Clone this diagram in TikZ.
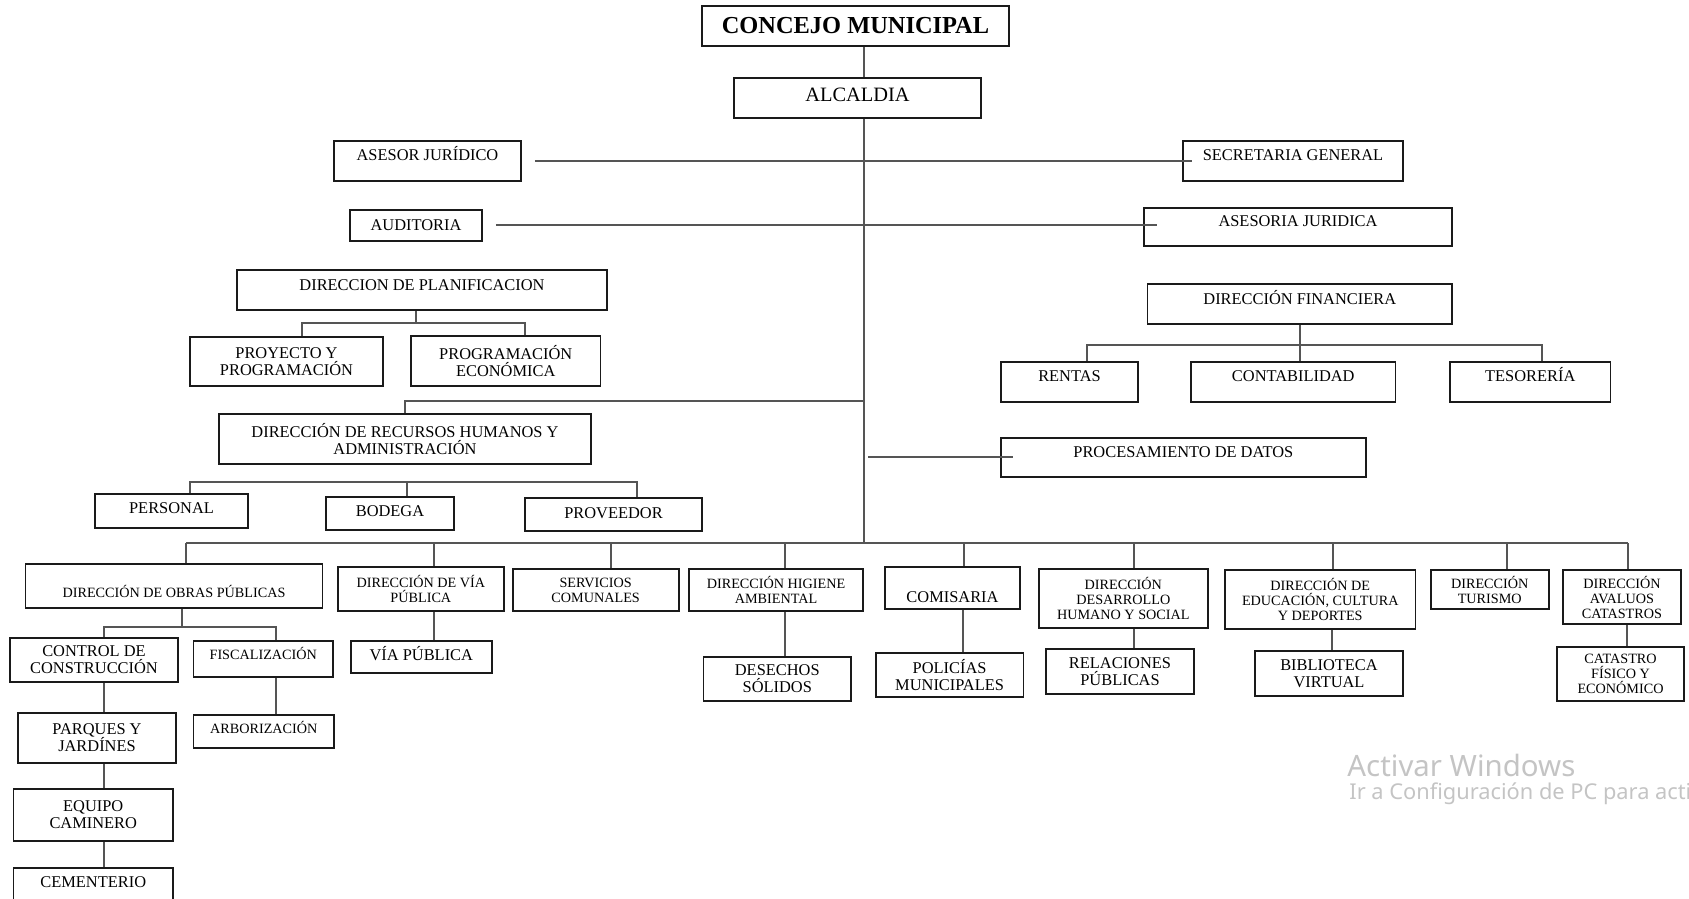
\documentclass[tikz,border=0pt]{standalone}
\usepackage{fontspec}
\setmainfont{Liberation Serif}
\newfontfamily\winfont{Noto Sans}
\usetikzlibrary{positioning, calc}
\definecolor{orgInk}{HTML}{1A1A1A}
\definecolor{orgLine}{HTML}{555555}
\definecolor{orgMark}{HTML}{C4C4C4}

\begin{document}
\begin{tikzpicture}[
    x=0.5pt, y=-0.5pt,
    unit/.style={
        draw=orgInk, line width=0.9pt, align=center, inner sep=1pt,
        font=\fontsize{8.2}{8.5}\selectfont
    },
    small/.style={font=\fontsize{7.1}{7.5}\selectfont},
    lift/.style={text height=5.4pt, text depth=#1},
    sink/.style={text height=#1, text depth=0pt},
    link/.style={draw=orgLine, line width=1pt},
    watermark/.style={text=orgMark, inner sep=0pt, anchor=west},
]
\clip (0,0) rectangle (1689,898);

% Concejo and Alcaldia
\node[unit, font=\bfseries\fontsize{12.2}{13}\selectfont, minimum width=153.5pt, minimum height=20pt] (concejo) at (855.5,26) {CONCEJO MUNICIPAL};
\node[unit, font=\fontsize{10.2}{11}\selectfont, lift=1.6pt, minimum width=123.5pt, minimum height=20pt] (alcaldia) at (857.5,98) {ALCALDIA};

% Staff units
\node[unit, lift=6pt, minimum width=93.5pt, minimum height=20pt] (asesorjur) at (427.5,161) {ASESOR JURÍDICO};
\node[unit, lift=6pt, minimum width=110pt, minimum height=20pt] (secretaria) at (1293,161) {SECRETARIA GENERAL};
\node[unit, minimum width=66pt, minimum height=15.5pt] (auditoria) at (416,225.5) {AUDITORIA};
\node[unit, lift=6pt, minimum width=154pt, minimum height=19pt] (asesoria) at (1298,227) {ASESORIA JURIDICA};

% Planificacion
\node[unit, lift=5pt, minimum width=185pt, minimum height=20pt] (planif) at (422,290) {DIRECCION DE PLANIFICACION};
\node[unit, minimum width=96.5pt, minimum height=24.5pt] (proyecto) at (286.5,361.5) {PROYECTO Y\\PROGRAMACIÓN};
\node[unit, minimum width=94.75pt, minimum height=25pt] (progecon) at (505.75,361) {PROGRAMACIÓN\\ECONÓMICA};

% Financiera
\node[unit, lift=5pt, minimum width=152.25pt, minimum height=20pt] (financiera) at (1299.75,304) {DIRECCIÓN FINANCIERA};
\node[unit, lift=6pt, minimum width=68.5pt, minimum height=20pt] (rentas) at (1069.5,382) {RENTAS};
\node[unit, lift=6pt, minimum width=102.25pt, minimum height=20pt] (contabilidad) at (1293.25,382) {CONTABILIDAD};
\node[unit, lift=6pt, minimum width=80.25pt, minimum height=20pt] (tesoreria) at (1530.25,382) {TESORERÍA};

% Recursos humanos
\node[unit, minimum width=186pt, minimum height=25pt] (rrhh) at (405,439) {DIRECCIÓN DE RECURSOS HUMANOS Y\\ADMINISTRACIÓN};
\node[unit, lift=3pt, minimum width=76.5pt, minimum height=17pt] (personal) at (171.5,511) {PERSONAL};
\node[unit, lift=2.5pt, minimum width=64pt, minimum height=16.5pt] (bodega) at (390,513.5) {BODEGA};
\node[unit, lift=1.5pt, minimum width=88.5pt, minimum height=16.5pt] (proveedor) at (613.5,514.5) {PROVEEDOR};
\node[unit, lift=5pt, minimum width=182.35pt, minimum height=19.65pt] (procesamiento) at (1183.35,457.35) {PROCESAMIENTO DE DATOS};

% Direcciones (bottom row)
\node[unit, small, sink=11.7pt, minimum width=148.5pt, minimum height=22pt] (obras) at (174,586) {DIRECCIÓN DE OBRAS PÚBLICAS};
\node[unit, small, minimum width=83.15pt, minimum height=22pt] (viadir) at (420.85,589) {DIRECCIÓN DE VÍA\\PÚBLICA};
\node[unit, small, minimum width=82.95pt, minimum height=21pt] (servicios) at (595.65,590) {SERVICIOS\\COMUNALES};
\node[unit, small, minimum width=87pt, minimum height=21pt] (higiene) at (776,590) {DIRECCIÓN HIGIENE\\AMBIENTAL};
\node[unit, sink=14.4pt, minimum width=67.5pt, minimum height=21pt] (comisaria) at (952.5,588) {COMISARIA};
\node[unit, small, minimum width=84.3pt, minimum height=29.5pt] (desarrollo) at (1123.3,598.5) {DIRECCIÓN\\DESARROLLO\\HUMANO Y SOCIAL};
\node[unit, small, minimum width=95.25pt, minimum height=29.5pt] (educacion) at (1320.25,599.5) {DIRECCIÓN DE\\EDUCACIÓN, CULTURA\\Y DEPORTES};
\node[unit, small, minimum width=59pt, minimum height=19.5pt] (turismo) at (1489.7,589.5) {DIRECCIÓN\\TURISMO};
\node[unit, small, minimum width=59.1pt, minimum height=27pt] (avaluos) at (1621.9,597) {DIRECCIÓN\\AVALUOS\\CATASTROS};

% Dependencias
\node[unit, minimum width=84pt, minimum height=22pt] (control) at (94,660) {CONTROL DE\\CONSTRUCCIÓN};
\node[unit, small, lift=5pt, minimum width=69.75pt, minimum height=18pt] (fiscal) at (263.25,659) {FISCALIZACIÓN};
\node[unit, minimum width=79pt, minimum height=25pt] (parques) at (97,738) {PARQUES Y\\JARDÍNES};
\node[unit, small, lift=3.5pt, minimum width=70.25pt, minimum height=16.5pt] (arbor) at (263.75,731.5) {ARBORIZACIÓN};
\node[unit, minimum width=79.75pt, minimum height=26pt] (equipo) at (93.25,815) {EQUIPO\\CAMINERO};
\node[unit, lift=2pt, minimum width=79.75pt, minimum height=16pt] (cementerio) at (93.25,884) {CEMENTERIO};
\node[unit, lift=2pt, minimum width=70.3pt, minimum height=16pt] (viapub) at (421.3,657) {VÍA PÚBLICA};
\node[unit, minimum width=73.75pt, minimum height=22pt] (desechos) at (777.25,679) {DESECHOS\\SÓLIDOS};
\node[unit, minimum width=73.9pt, minimum height=22pt] (policias) at (949.6,675) {POLICÍAS\\MUNICIPALES};
\node[unit, minimum width=74pt, minimum height=22.5pt] (relaciones) at (1120,671.5) {RELACIONES\\PÚBLICAS};
\node[unit, minimum width=74pt, minimum height=22.5pt] (biblioteca) at (1329,673.5) {BIBLIOTECA\\VIRTUAL};
\node[unit, small, minimum width=63.5pt, minimum height=27pt] (catastro) at (1620.5,674) {CATASTRO\\FÍSICO Y\\ECONÓMICO};

% Trunk
\coordinate (trunk) at (864,543);
\draw[link] (concejo.south -| trunk) -- (alcaldia.north -| trunk);
\draw[link] (alcaldia.south -| trunk) -- (trunk);
\draw[link, shorten <=6.5pt, shorten >=-5pt] (asesorjur) -- (secretaria);
\draw[link, shorten <=6.5pt, shorten >=-7pt] (auditoria.east) -- (auditoria.east -| asesoria.west);
\draw[link] (rrhh.north) |- ($(trunk |- rrhh.north)+(0,-12)$);
\draw[link, shorten <=2pt, shorten >=-6.5pt] (trunk |- procesamiento.west) -- (procesamiento.west);

% Planificacion branches
\coordinate (planbus) at ($(planif.south)+(-6,12)$);
\draw[link] (planif.south -| planbus) -- (planbus);
\draw[link] ($(proyecto.north)+(15.5,0)$) |- ($(progecon.north |- planbus)+(19.25,0)$) -- ($(progecon.north)+(19.25,0)$);

% Financiera branches
\coordinate (finbus) at ($(financiera.south)+(0,20)$);
\draw[link] (financiera.south) -- (financiera.south |- contabilidad.north);
\draw[link] ($(rentas.north)+(17.5,0)$) |- ($(tesoreria.north |- finbus)+(11.5,0)$) -- ($(tesoreria.north)+(11.5,0)$);

% Recursos humanos branches
\coordinate (rrhhbus) at ($(rrhh.south)+(0,17)$);
\draw[link] ($(personal.north)+(18.5,0)$) |- ($(proveedor.north |- rrhhbus)+(23.5,0)$) -- ($(proveedor.north)+(23.5,0)$);
\draw[link] ($(bodega.north)+(16.5,0)$) -- ($(bodega.north |- rrhhbus)+(16.5,0)$);

% Bottom bus
\draw[link] ($(obras.north |- trunk)+(12,0)$) -- ($(avaluos.north |- trunk)+(6,0)$);
\foreach \unitname/\dx in {obras/12, viadir/13, servicios/15, higiene/9, comisaria/11,
    desarrollo/10.7, educacion/12.75, turismo/17, avaluos/6}
    \draw[link] ($(\unitname.north)+(\dx,0)$) -- ($(\unitname.north |- trunk)+(\dx,0)$);

% Obras branches
\coordinate (obrasbus) at ($(obras.south)+(8,18)$);
\draw[link] (obras.south -| obrasbus) -- (obrasbus);
\draw[link] ($(control.north)+(10,0)$) |- ($(fiscal.north |- obrasbus)+(12.75,0)$) -- ($(fiscal.north)+(12.75,0)$);

% Vertical chains
\foreach \parentnode/\childnode/\dx in {control/parques/10, parques/equipo/7, equipo/cementerio/10.75,
    fiscal/arbor/12.75, viadir/viapub/13.15, higiene/desechos/9, comisaria/policias/10.9,
    desarrollo/relaciones/10.7, educacion/biblioteca/11.75, avaluos/catastro/5.1}
    \draw[link] ($(\parentnode.south)+(\dx,0)$) -- ($(\childnode.north -| \parentnode.south)+(\dx,0)$);

% Watermark
\node[watermark, font=\winfont\fontsize{14.7}{16}\selectfont] (activar) at (1347,765) {Activar Windows};
\node[watermark, font=\winfont\fontsize{10.9}{12}\selectfont] (config) at (1349,794) {Ir a Configuración de PC para acti};

\end{tikzpicture}
\end{document}
